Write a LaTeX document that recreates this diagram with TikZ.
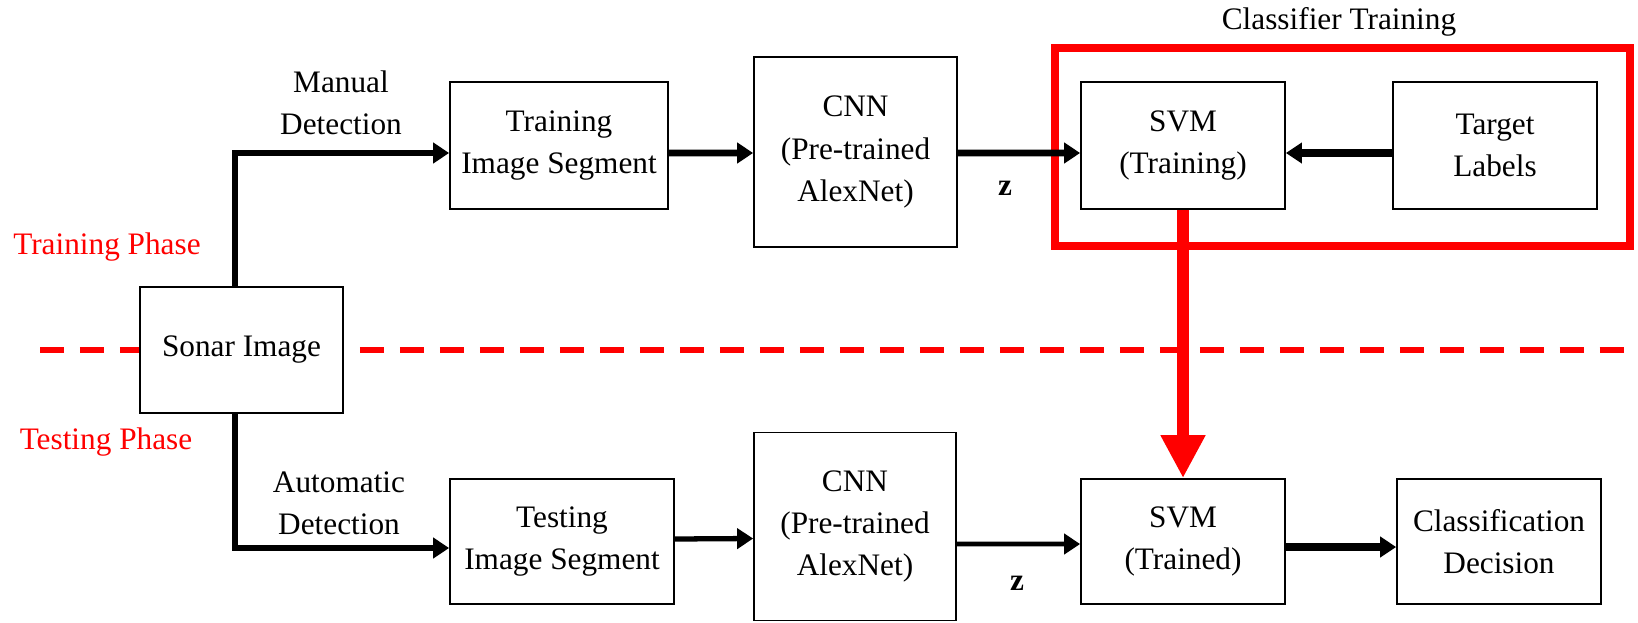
\documentclass[tikz,border=0pt]{standalone}
\usepackage{fontspec}
\setmainfont{Liberation Serif}
\usetikzlibrary{arrows.meta}

\begin{document}
\begin{tikzpicture}[x=0.02cm, y=-0.02cm,
  font=\fontsize{17.8}{24}\selectfont,
  blk/.style={draw, line width=1pt, fill=white, align=center, inner sep=0pt},
  lbl/.style={align=center, inner sep=0pt},
  flow/.style={line width=3.8pt, -{Triangle[length=0.32cm,width=0.4cm]}}]
\useasboundingbox (0,0) rectangle (1638,622);

% phase line
\draw[red, line width=0.12cm, dash pattern=on 0.48cm off 0.32cm] (40,350) -- (1638,350);

% classifier training frame
\draw[red, line width=0.16cm] (1055,48) rectangle (1630,246);
\node[lbl] (clstitle) at (1339,22) {Classifier Training};

\node[lbl, red] (trphase) at (107,247) {Training Phase};
\node[lbl, red] (tsphase) at (106,442) {Testing Phase};

% boxes
\node[blk, minimum width=4.06cm, minimum height=2.52cm] (sonar) at (241.5,350) {Sonar Image};

\node[blk, minimum width=4.36cm, minimum height=2.54cm] (trainseg) at (559,145.5) {Training\\Image Segment};
\node[blk, minimum width=4.06cm, minimum height=3.8cm] (cnntop) at (855.5,152) {CNN\\(Pre-trained\\AlexNet)};
\node[blk, minimum width=4.08cm, minimum height=2.54cm] (svmtrain) at (1183,145.5) {SVM\\(Training)};
\node[blk, minimum width=4.08cm, minimum height=2.54cm] (labels) at (1495,145.5) {Target\\Labels};

\node[blk, minimum width=4.48cm, minimum height=2.5cm] (testseg) at (562,541.5) {Testing\\Image Segment};
\node[blk, minimum width=4.04cm, minimum height=3.76cm] (cnnbot) at (855,526.5) {CNN\\(Pre-trained\\AlexNet)};
\node[blk, minimum width=4.08cm, minimum height=2.5cm] (svmtest) at (1183,541.5) {SVM\\(Trained)};
\node[blk, minimum width=4.08cm, minimum height=2.5cm] (decision) at (1499,541.5) {Classification\\Decision};

\node[lbl] (manual) at (341,103) {Manual\\Detection};
\node[lbl] (auto) at (339,503) {Automatic\\Detection};
\node[lbl, font=\fontsize{17.8}{24}\selectfont\bfseries] (ztop) at (1005,188) {z};
\node[lbl, font=\fontsize{17.8}{24}\selectfont\bfseries] (zbot) at (1017,583) {z};

% top row
\draw[flow, line width=3.7pt] ([xshift=-0.13cm]sonar.north) |- ([yshift=-0.15cm]trainseg.west);
\draw[flow] ([yshift=-0.15cm]trainseg.east) -- ([yshift=-0.02cm]cnntop.west);
\draw[flow] ([yshift=-0.02cm]cnntop.east) -- ([yshift=-0.15cm]svmtrain.west);
\draw[flow, line width=4.5pt] ([yshift=-0.15cm]labels.west) -- ([yshift=-0.15cm]svmtrain.east);

% trained model
\draw[red, line width=0.24cm, -{Triangle[length=0.86cm,width=0.84cm]}] (svmtrain.south) -- (svmtest.north);

% bottom row
\draw[flow, line width=3.7pt] ([xshift=-0.13cm]sonar.south) |- ([yshift=-0.13cm]testseg.west);
\draw[flow, line width=3pt] ([yshift=0.05cm]testseg.east) -- ([yshift=-0.24cm]cnnbot.west);
\draw[flow, line width=2.6pt] ([yshift=-0.35cm]cnnbot.east) -- ([yshift=-0.05cm]svmtest.west);
\draw[flow, line width=4.5pt] ([yshift=-0.11cm]svmtest.east) -- ([yshift=-0.11cm]decision.west);

\end{tikzpicture}
\end{document}
